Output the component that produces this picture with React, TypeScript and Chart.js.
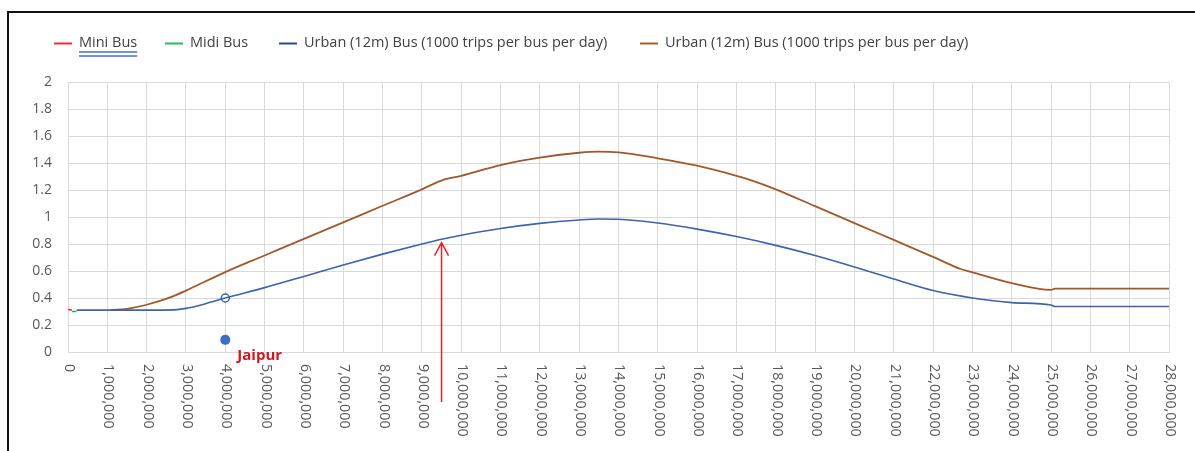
import React, { useEffect, useRef } from "react";
import { Chart, registerables } from "chart.js";

Chart.register(...registerables);

// ---------- data ----------
const miniBusX = [0, 100000];
const miniBusY = [0.315, 0.31];

const midiBusX = [100000, 220000];
const midiBusY = [0.3, 0.3];

const urbanBlueX = [
  220000, 1000000, 2000000, 2700000, 3000000, 3500000, 4000000, 5000000, 6000000,
  7000000, 8000000, 9000000, 9500000, 10000000, 11000000, 12000000, 13000000,
  13500000, 14000000, 15000000, 16000000, 17000000, 18000000, 19000000, 20000000,
  21000000, 22000000, 23000000, 24000000, 25000000, 25100000, 28000000,
];
const urbanBlueY = [
  0.31, 0.31, 0.31, 0.312, 0.323, 0.358, 0.4, 0.477, 0.56, 0.645, 0.725, 0.8,
  0.835, 0.865, 0.915, 0.953, 0.978, 0.985, 0.983, 0.955, 0.91, 0.855, 0.79,
  0.715, 0.63, 0.54, 0.455, 0.4, 0.366, 0.348, 0.337, 0.337,
];

const urbanBrownX = [
  1100000, 1500000, 2000000, 2600000, 3000000, 4000000, 5000000, 6000000, 7000000,
  8000000, 9000000, 9500000, 10000000, 11000000, 12000000, 13000000, 13500000,
  14000000, 15000000, 16000000, 17000000, 17400000, 18000000, 19000000, 20000000,
  21000000, 22000000, 22700000, 23000000, 24000000, 25000000, 25100000, 28000000,
];
const urbanBrownY = [
  0.31, 0.32, 0.35, 0.405, 0.455, 0.592, 0.715, 0.838, 0.96, 1.083, 1.205, 1.27,
  1.305, 1.385, 1.44, 1.476, 1.484, 1.478, 1.435, 1.38, 1.305, 1.27, 1.205, 1.08,
  0.955, 0.83, 0.705, 0.615, 0.59, 0.51, 0.46, 0.47, 0.47,
];

const markerX = [4000000];
const markerY = [0.4];

const jaipurX = [4000000];
const jaipurY = [0.09];
const jaipurLabel = "Jaipur";

const arrowX = 9500000;
const arrowTopY = 0.81;

const seriesLabels = [
  "Mini Bus",
  "Midi Bus",
  "Urban (12m) Bus (1000 trips per bus per day)",
  "Urban (12m) Bus (1000 trips per bus per day)",
];

const xMin = 0;
const xMax = 28000000;
const xStep = 1000000;
const yMin = 0;
const yMax = 2;
const yStep = 0.2;

// ---------- styles ----------
const FONT = "'Open Sans', 'DejaVu Sans', sans-serif";
const TEXT_GREY = "#595959";
const GRID = "#d9d9d9";
const legendColors = ["#ff2a2a", "#27b862", "#2c4a8c", "#b05a26"];
const legendStartX = [54, 165, 279, 640];

const pts = (xs: number[], ys: number[]) => xs.map((x, i) => ({ x, y: ys[i] }));

const overlayPlugin = {
  id: "overlay",
  afterDraw(chart: any) {
    const { ctx, chartArea, scales } = chart;
    const xs = scales.x;
    const ys = scales.y;

    // x tick labels rotated clockwise (read top to bottom)
    ctx.save();
    ctx.fillStyle = TEXT_GREY;
    ctx.font = `14.3px ${FONT}`;
    ctx.textAlign = "left";
    ctx.textBaseline = "middle";
    xs.ticks.forEach((t: any) => {
      const px = xs.getPixelForValue(t.value);
      ctx.save();
      ctx.translate(px + 1, chartArea.bottom + 12);
      ctx.rotate(Math.PI / 2);
      ctx.fillText(Number(t.value).toLocaleString("en-US"), 0, 0);
      ctx.restore();
    });
    ctx.restore();

    // legend
    ctx.save();
    ctx.font = `14.5px ${FONT}`;
    ctx.textBaseline = "middle";
    ctx.textAlign = "left";
    const ly = 43;
    seriesLabels.forEach((lab, i) => {
      const sx = legendStartX[i];
      ctx.strokeStyle = legendColors[i];
      ctx.lineWidth = 2;
      ctx.beginPath();
      ctx.moveTo(sx, ly + 0.5);
      ctx.lineTo(sx + 18, ly + 0.5);
      ctx.stroke();
      ctx.fillStyle = "#404040";
      ctx.fillText(lab, sx + 25, ly);
      if (i === 0) {
        const w = ctx.measureText(lab).width;
        ctx.strokeStyle = "#6f94e6";
        ctx.lineWidth = 2;
        ctx.beginPath();
        ctx.moveTo(sx + 25, 52);
        ctx.lineTo(sx + 25 + w, 52);
        ctx.moveTo(sx + 25, 56);
        ctx.lineTo(sx + 25 + w, 56);
        ctx.stroke();
      }
    });
    ctx.restore();

    // Jaipur label
    ctx.save();
    ctx.font = `bold 15px ${FONT}`;
    ctx.fillStyle = "#d0161e";
    ctx.textAlign = "left";
    ctx.textBaseline = "middle";
    ctx.fillText(jaipurLabel, xs.getPixelForValue(jaipurX[0]) + 12, ys.getPixelForValue(jaipurY[0]) + 16);
    ctx.restore();

    // arrow
    const ax = xs.getPixelForValue(arrowX);
    const ay = ys.getPixelForValue(arrowTopY);
    const ab = chartArea.bottom + 50;
    ctx.save();
    ctx.strokeStyle = "#e0262b";
    ctx.lineWidth = 1.5;
    ctx.beginPath();
    ctx.moveTo(ax, ab);
    ctx.lineTo(ax, ay);
    ctx.moveTo(ax - 7, ay + 13);
    ctx.lineTo(ax, ay);
    ctx.lineTo(ax + 7, ay + 13);
    ctx.stroke();
    ctx.restore();
  },
};

export default function App() {
  const ref = useRef<HTMLCanvasElement | null>(null);

  useEffect(() => {
    if (!ref.current) return;
    const lineDs = (label: string, data: any, color: string, width: number) => ({
      label,
      data,
      borderColor: color,
      backgroundColor: color,
      borderWidth: width,
      pointRadius: 0,
      fill: false,
      cubicInterpolationMode: "monotone" as const,
    });
    const chart = new Chart(ref.current, {
      type: "line",
      data: {
        datasets: [
          lineDs(seriesLabels[0], pts(miniBusX, miniBusY), "#ff2020", 1.5),
          lineDs(seriesLabels[1], pts(midiBusX, midiBusY), "#1fb35a", 1.5),
          lineDs(seriesLabels[2], pts(urbanBlueX, urbanBlueY), "#3d63ad", 1.6),
          lineDs(seriesLabels[3], pts(urbanBrownX, urbanBrownY), "#a3582a", 1.8),
          {
            label: "marker",
            data: pts(markerX, markerY),
            showLine: false,
            pointRadius: 4,
            pointBorderWidth: 1.5,
            pointBorderColor: "#3d63ad",
            pointBackgroundColor: "#ffffff",
          },
          {
            label: jaipurLabel,
            data: pts(jaipurX, jaipurY),
            showLine: false,
            pointRadius: 5,
            pointBorderWidth: 0,
            pointBackgroundColor: "#3f6cc4",
            pointBorderColor: "#3f6cc4",
          },
        ],
      },
      options: {
        responsive: false,
        animation: false,
        devicePixelRatio: 1,
        layout: { padding: { top: 82, left: 0, right: 26, bottom: 0 } },
        plugins: {
          legend: { display: false },
          tooltip: { enabled: false },
        },
        scales: {
          x: {
            type: "linear",
            min: xMin,
            max: xMax,
            ticks: { stepSize: xStep, display: false, autoSkip: false },
            grid: { color: GRID, lineWidth: 1, drawTicks: false },
            border: { color: GRID, width: 1 },
            afterFit: (s: any) => {
              s.height = 99;
            },
          },
          y: {
            min: yMin,
            max: yMax,
            ticks: {
              stepSize: yStep,
              padding: 16,
              color: TEXT_GREY,
              font: { family: FONT, size: 14 },
              callback: (v: any) => String(Math.round(Number(v) * 10) / 10),
            },
            grid: { color: GRID, lineWidth: 1, drawTicks: false },
            border: { color: GRID, width: 1 },
            afterFit: (s: any) => {
              s.width = 68;
            },
          },
        },
      },
      plugins: [overlayPlugin],
    });
    return () => chart.destroy();
  }, []);

  return (
    <>
      <div
        style={{
          position: "absolute",
          left: 7,
          top: 11,
          width: 1188,
          height: 440,
          borderTop: "2px solid #111",
          borderLeft: "2px solid #111",
          boxSizing: "border-box",
        }}
      />
      <canvas
        ref={ref}
        width={1195}
        height={451}
        style={{ position: "absolute", left: 0, top: 0, width: 1195, height: 451 }}
      />
    </>
  );
}
